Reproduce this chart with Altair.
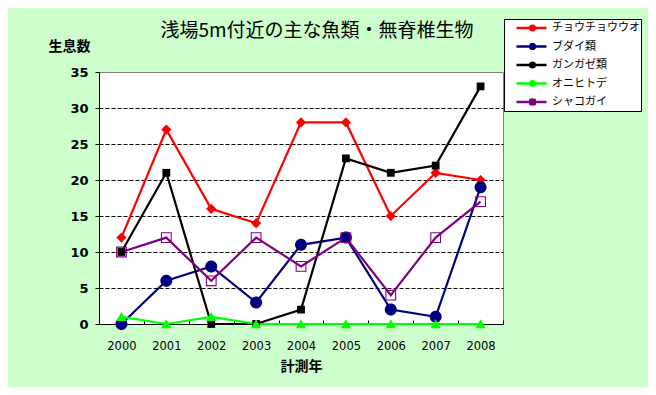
import altair as alt
import pandas as pd

years = ["2000", "2001", "2002", "2003", "2004", "2005", "2006", "2007", "2008"]
series_names = ["チョウチョウウオ", "ブダイ類", "ガンガゼ類", "オニヒトデ", "シャコガイ"]
chouchouuo = [12, 27, 16, 14, 28, 28, 15, 21, 20]
budai = [0, 6, 8, 3, 11, 12, 2, 1, 19]
gangaze = [10, 21, 0, 0, 2, 23, 21, 22, 33]
onihitode = [1, 0, 1, 0, 0, 0, 0, 0, 0]
shakogai = [10, 12, 6, 12, 8, 12, 4, 12, 17]
series_values = [chouchouuo, budai, gangaze, onihitode, shakogai]
colors = ["#FF0000", "#000080", "#000000", "#00FF00", "#800080"]
shapes = [
    "M0,-0.85L0.85,0L0,0.85L-0.85,0Z",
    "M-1,0A1,1 0 1,0 1,0A1,1 0 1,0 -1,0Z",
    "M-0.65,-0.65H0.65V0.65H-0.65Z",
    "M0,-0.8L0.85,0.7H-0.85Z",
    "M-0.9,-0.9H0.9V0.9H-0.9Z M-0.72,-0.72V0.72H0.72V-0.72Z",
]

rows = []
for i, (name, vals) in enumerate(zip(series_names, series_values)):
    for y, v in zip(years, vals):
        rows.append({"年": y, "値": v, "系列": name, "記号": f"m{i}"})
df = pd.DataFrame(rows)

jp = "Noto Sans CJK JP"

x_enc = alt.X(
    "年:O",
    bandPosition=0.5,
    scale=alt.Scale(type="band", paddingInner=0, paddingOuter=0),
    axis=alt.Axis(
        title="計測年", titleFont=jp, titleFontSize=14, titleFontWeight="bold",
        titleX=202, titleY=46, titleBaseline="middle", titleAlign="center",
        labelAngle=0, labelFont="DejaVu Sans", labelFontSize=11.5, labelColor="black",
        labelPadding=16, tickBand="extent", tickSize=4, tickColor="black",
        offset=-4, domain=False, grid=False,
    ),
)
y_enc = alt.Y(
    "値:Q",
    scale=alt.Scale(domain=[0, 35], nice=False),
    axis=alt.Axis(
        title="生息数", titleFont=jp, titleFontSize=14, titleFontWeight="bold",
        titleAngle=0, titleX=-30, titleY=-26, titleAlign="center", titleBaseline="middle",
        values=[0, 5, 10, 15, 20, 25, 30, 35],
        labelFont="DejaVu Sans", labelFontSize=13, labelFontWeight="bold", labelColor="black",
        labelPadding=7, tickSize=4, tickColor="black",
        domain=True, domainColor="black",
        grid=True, gridColor="black",
        gridDash=alt.condition("datum.value === 0", alt.value([]), alt.value([4, 2])),
        gridOpacity=alt.condition("datum.value === 35", alt.value(0), alt.value(1)),
    ),
)

marker_legend = alt.Legend(
    title=None, orient="none", legendX=405, legendY=-53,
    symbolSize=49, clipHeight=16, rowPadding=2.5, padding=1, symbolOffset=22,
    labelFont=jp, labelFontSize=11, labelExpr="''", labelOffset=4,
    zindex=2,
)

lines = alt.Chart(df).mark_line(strokeWidth=2.2).encode(
    x=x_enc,
    y=y_enc,
    stroke=alt.Stroke(
        "系列:N", sort=series_names,
        scale=alt.Scale(range=colors),
        legend=alt.Legend(
            title=None, orient="none", legendX=405, legendY=-53,
            symbolType="stroke", symbolSize=900, symbolStrokeWidth=2.5,
            clipHeight=16, rowPadding=2.5, padding=1, symbolOffset=10,
            labelFont=jp, labelFontSize=11, labelColor="black", labelOffset=4,
            fillColor="white", strokeColor="black", cornerRadius=0, zindex=1,
        ),
    ),
    order=alt.Order("年:O"),
)

points = alt.Chart(df).mark_point(filled=True, opacity=1, size=144).encode(
    x=x_enc,
    y=y_enc,
    color=alt.Color("記号:N", scale=alt.Scale(range=colors), legend=marker_legend),
    shape=alt.Shape("記号:N", scale=alt.Scale(range=shapes), legend=marker_legend),
)

chart = alt.layer(lines, points).properties(
    width=404,
    height=252,
    autosize=alt.AutoSizeParams(type="none"),
    padding={"left": 91, "top": 64, "right": 145, "bottom": 63},
    title=alt.TitleParams(
        "浅場5m付近の主な魚類・無脊椎生物", font=jp, fontSize=19, fontWeight="normal",
        color="black", anchor="middle", dx=16, offset=-22,
    ),
    background="#CCFFCC",
).configure_view(
    fill="white", stroke="#808080", strokeWidth=1,
).resolve_scale(color="independent")

chart.save("out.html", embed_options={"renderer": "svg", "actions": False})
